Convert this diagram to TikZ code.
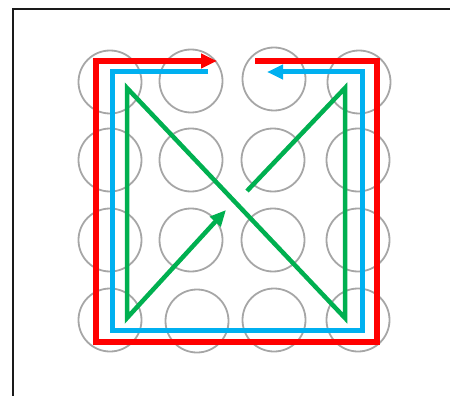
\documentclass[tikz,border=0pt]{standalone}
\usepackage{tikz}
\usetikzlibrary{arrows.meta}
\definecolor{RouteRed}{HTML}{FF0000}
\definecolor{RouteBlue}{HTML}{00B0F0}
\definecolor{RouteGreen}{HTML}{00B050}
\definecolor{DotGray}{HTML}{A6A6A6}
\definecolor{FrameBlack}{HTML}{1A1A1A}

\begin{document}
\begin{tikzpicture}[x=1pt,y=-1pt,>={Triangle[length=16pt,width=14pt]},
  dot/.style={circle,draw=DotGray,line width=1.8pt,minimum size=63pt,inner sep=0pt},
  redroute/.style={RouteRed,line width=5.5pt,line join=miter},
  blueroute/.style={RouteBlue,line width=5pt,line join=miter},
  greenroute/.style={RouteGreen,line width=4.5pt,line join=miter}]
  \useasboundingbox (0,0) rectangle (450,396);
  \clip (0,0) rectangle (450,396);
  \draw[FrameBlack,line width=2pt] (13,9) rectangle (470,420);
  % grid of dots
  \node[dot] (d11) at (110,82) {};
  \node[dot] (d12) at (191,81) {};
  \node[dot] (d13) at (274,79) {};
  \node[dot] (d14) at (359,82) {};
  \node[dot] (d21) at (110,160) {};
  \node[dot] (d22) at (191,160) {};
  \node[dot] (d23) at (273,160) {};
  \node[dot] (d24) at (358,160) {};
  \node[dot] (d31) at (110,240) {};
  \node[dot] (d32) at (191,240) {};
  \node[dot] (d33) at (273,240) {};
  \node[dot] (d34) at (358,240) {};
  \node[dot] (d41) at (110,320) {};
  \node[dot] (d42) at (197,321) {};
  \node[dot] (d43) at (274,320) {};
  \node[dot] (d44) at (358,320) {};
  % outer route
  \coordinate (r0) at (255,61);
  \coordinate (r1) at (377,61);
  \coordinate (r2) at (377,342);
  \coordinate (r3) at (96,342);
  \coordinate (r4) at (96,61);
  \coordinate (r5) at (217,61);
  \draw[->,redroute] (r0)--(r1)--(r2)--(r3)--(r4)--(r5);
  % inner route
  \coordinate (b0) at (208,72);
  \coordinate (b1) at (112,72);
  \coordinate (b2) at (112,330);
  \coordinate (b3) at (362,330);
  \coordinate (b4) at (362,72);
  \coordinate (b5) at (267,72);
  \draw[->,blueroute] (b0)--(b1)--(b2)--(b3)--(b4)--(b5);
  % crossing route
  \coordinate (g0) at (247,191);
  \coordinate (g1) at (345,88);
  \coordinate (g2) at (345,318);
  \coordinate (g3) at (127,88);
  \coordinate (g4) at (127,318);
  \coordinate (g5) at (226,210);
  \draw[->,greenroute] (g0)--(g1)--(g2)--(g3)--(g4)--(g5);
\end{tikzpicture}
\end{document}
